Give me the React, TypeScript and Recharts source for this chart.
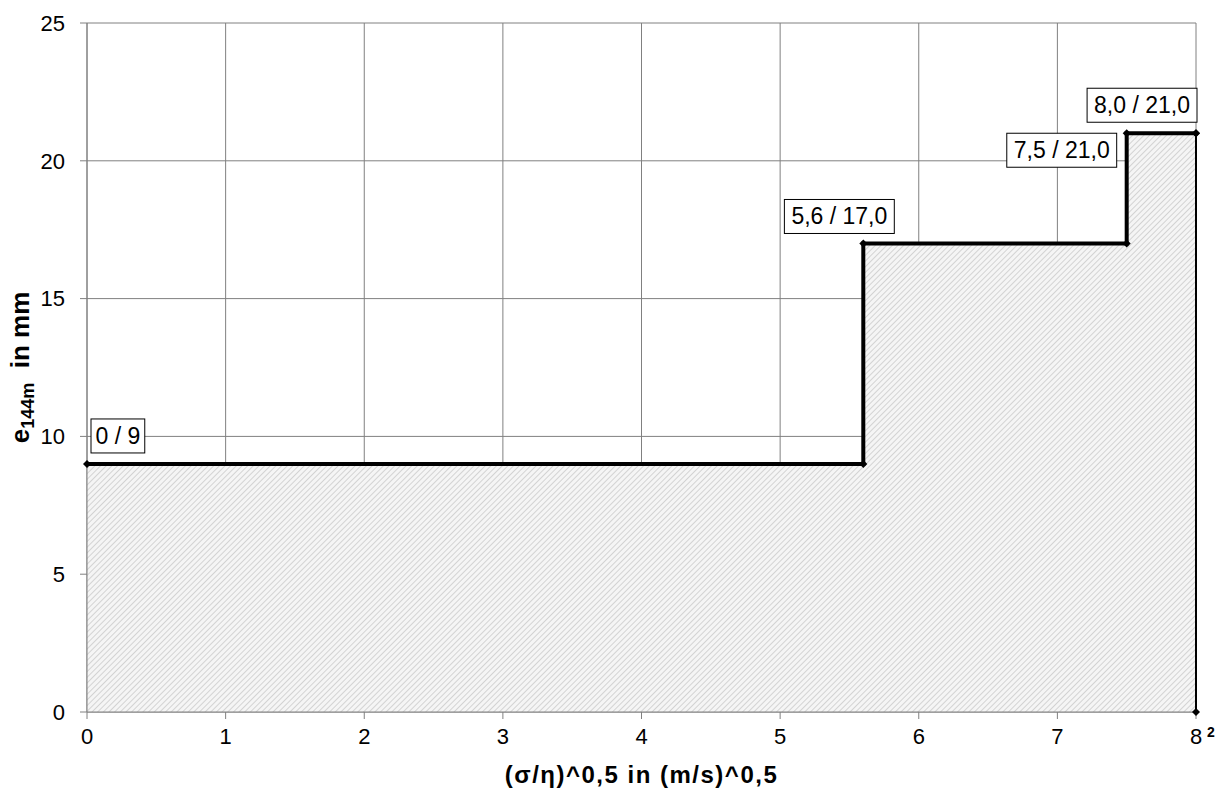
import { ComposedChart, Area, Line, Scatter, XAxis, YAxis, CartesianGrid } from "recharts";

// step boundary of the limit curve
const stepX = [0, 5.6, 5.6, 7.5, 7.5, 8];
const stepY = [9, 9, 17, 17, 21, 21];
// closing drop at the right edge
const dropX = [8, 8];
const dropY = [21, 0];
// point labels
const labelX = [0, 5.6, 7.5, 8];
const labelY = [9, 17, 21, 21];
const labelText = ["0 / 9", "5,6 / 17,0", "7,5 / 21,0", "8,0 / 21,0"];

const xTicks = [0, 1, 2, 3, 4, 5, 6, 7, 8];
const yTicks = [0, 5, 10, 15, 20, 25];

const stepData = stepX.map((x, i) => ({ x, y: stepY[i] }));
const dropData = dropX.map((x, i) => ({ x, y: dropY[i] }));
const areaData = [...stepData, ...dropData.slice(1)];
const labelData = labelX.map((x, i) => ({ x, y: labelY[i], text: labelText[i], idx: i }));

const FONT = "Arial, 'Liberation Sans', sans-serif";
const GRID = "#808080";

// where each box sits relative to its point
const placement = [
  { side: "left", dx: 4, dy: -11, valign: "bottom", pad: 9 },
  { side: "right", dx: 31, dy: -10, valign: "bottom", pad: 14 },
  { side: "right", dx: -10, dy: 0, valign: "top", pad: 14 },
  { side: "right", dx: 1, dy: -11, valign: "bottom", pad: 14 },
];

const textWidth = (s: string, size: number) =>
  s.split("").reduce((w, c) => w + (/[0-9]/.test(c) ? 0.556 : 0.278) * size, 0);

const Diamond = (props: any) => {
  const { cx, cy, index } = props;
  if (cx == null || cy == null) return null;
  const r = 4;
  return (
    <path
      key={`d-${index}-${cx}-${cy}`}
      d={`M${cx},${cy - r}L${cx + r},${cy}L${cx},${cy + r}L${cx - r},${cy}Z`}
      fill="#000"
    />
  );
};

const LabelBox = (props: any) => {
  const { cx, cy, payload } = props;
  const p = placement[payload.idx];
  const fs = 23;
  const w = textWidth(payload.text, fs) + p.pad;
  const h = 34;
  const left = p.side === "left" ? cx + p.dx : cx + p.dx - w;
  const top = p.valign === "bottom" ? cy + p.dy - h : cy + p.dy;
  return (
    <g>
      <rect x={left} y={top} width={w} height={h} fill="#fff" stroke="#000" strokeWidth={1} />
      <text
        x={left + w / 2}
        y={top + h / 2 + 8}
        textAnchor="middle"
        fontFamily={FONT}
        fontSize={fs}
        fill="#000"
      >
        {payload.text}
      </text>
    </g>
  );
};

const XTick = (props: any) => {
  const { x, y, payload } = props;
  return (
    <g>
      <text x={x} y={y} dy="0.71em" textAnchor="middle" fontFamily={FONT} fontSize={22} fill="#000">
        {payload.value}
      </text>
      {payload.value === 8 && (
        <text x={x + 11} y={y + 9} fontFamily={FONT} fontSize={14} fontWeight="bold" fill="#000">
          2
        </text>
      )}
    </g>
  );
};

const YLabel = (props: any) => {
  const { viewBox } = props;
  const cy = viewBox.y + viewBox.height / 2;
  const cx = 29;
  return (
    <text
      transform={`translate(${cx},${cy}) rotate(-90)`}
      textAnchor="middle"
      fontFamily={FONT}
      fontSize={26}
      fontWeight="bold"
      fill="#000"
    >
      e
      <tspan fontSize={18} dy={5}>144m</tspan>
      <tspan dy={-5}>{"\u00a0\u00a0in mm"}</tspan>
    </text>
  );
};

export default function App() {
  return (
    <div style={{ position: "absolute", left: 0, top: 0, background: "#fff" }}>
      <ComposedChart width={1215} height={789} margin={{ top: 23, right: 19, bottom: 0, left: 0 }}>
        <defs>
          <pattern id="hatch" patternUnits="userSpaceOnUse" width={4} height={4} patternTransform="rotate(45)">
            <rect width={4} height={4} fill="#f5f5f5" />
            <line x1={0} y1={0} x2={0} y2={4} stroke="#b8b8b8" strokeWidth={1.1} />
          </pattern>
        </defs>
        <CartesianGrid stroke={GRID} strokeWidth={1} />
        <XAxis
          dataKey="x"
          type="number"
          domain={[0, 8]}
          ticks={xTicks}
          interval={0}
          height={77}
          tickSize={7}
          tickMargin={9}
          stroke={GRID}
          tick={<XTick />}
          label={{
            value: "(σ/η)^0,5 in (m/s)^0,5",
            position: "insideBottom",
            offset: 6,
            style: { fontFamily: FONT, fontSize: 24, fontWeight: "bold", fill: "#000", letterSpacing: 1.5 },
          }}
        />
        <YAxis
          dataKey="y"
          type="number"
          domain={[0, 25]}
          ticks={yTicks}
          interval={0}
          width={87}
          tickSize={7}
          tickMargin={15}
          stroke={GRID}
          tick={{ fontFamily: FONT, fontSize: 22, fill: "#000" }}
          label={{ content: <YLabel /> }}
        />
        <Area
          data={areaData}
          dataKey="y"
          type="linear"
          fill="url(#hatch)"
          fillOpacity={1}
          stroke="none"
          isAnimationActive={false}
        />
        <Line
          data={stepData}
          dataKey="y"
          type="linear"
          stroke="#000"
          strokeWidth={4}
          strokeLinejoin="miter"
          dot={Diamond}
          isAnimationActive={false}
        />
        <Line
          data={dropData}
          dataKey="y"
          type="linear"
          stroke="#000"
          strokeWidth={2}
          dot={Diamond}
          isAnimationActive={false}
        />
        <Scatter data={labelData} dataKey="y" shape={LabelBox} isAnimationActive={false} />
      </ComposedChart>
    </div>
  );
}
